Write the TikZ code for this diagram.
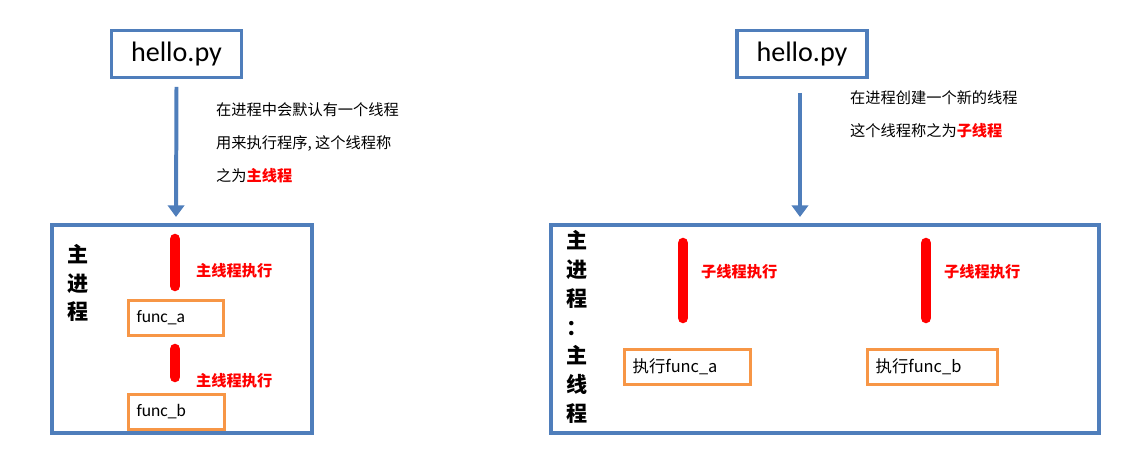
\documentclass[tikz,border=0pt]{standalone}
\usepackage{fontspec}
\setmainfont{Carlito}
\newfontfamily\cjk{Noto Sans CJK SC}
\usetikzlibrary{arrows.meta,positioning}
\definecolor{boxblue}{HTML}{4F7EBB}
\definecolor{boxorange}{HTML}{F79646}
\tikzset{
  filebox/.style={draw=boxblue,line width=2.6pt,minimum width=3.9cm,minimum height=1.4cm,font=\fontsize{24}{26}\selectfont},
  procbox/.style={draw=boxblue,line width=2.6pt},
  funcbox/.style={draw=boxorange,line width=2.4pt,anchor=west,minimum height=1.05cm,text width=2.35cm,inner xsep=7pt,font=\fontsize{15}{17}\selectfont},
  flow/.style={-{Triangle[length=10pt,width=14pt]},boxblue,line width=3.4pt},
  run/.style={red,line width=9pt,line cap=round},
  runlabel/.style={anchor=west,red,font=\cjk\bfseries\fontsize{13}{15}\selectfont},
  note/.style={anchor=north west,align=left,font=\cjk\fontsize{13}{28}\selectfont},
  vert/.style={font=\cjk\bfseries\fontsize{18}{24.5}\selectfont,align=center}
}
\begin{document}
\begin{tikzpicture}[x=0.03cm,y=-0.03cm]
\useasboundingbox (0,0) rectangle (1126,457);
% left side
\node[filebox] (helloA) at (176.5,54) {hello.py};
\draw[procbox] (52,225) rectangle (312,433);
\coordinate (topA) at (176,217);
\draw[flow] (helloA.south) ++(0,8) coordinate (startA) (startA) -- (topA);
\node[note] (noteA) at (212,99) {在进程中会默认有一个线程\\用来执行程序, 这个线程称\\之为{\color{red}\bfseries 主线程}};
\node[vert] (mainA) at (78,283) {主\\进\\程};
\node[funcbox] (funcA) at (127,318) {func\_a};
\node[funcbox,text width=2.4cm] (funcB) at (127,412) {func\_b};
\coordinate (runA1) at (175,239);
\coordinate (runA2) at (175,286);
\coordinate (runB1) at (175,349);
\coordinate (runB2) at (175,377);
\draw[run] (runA1) -- (runA2);
\draw[run] (runB1) -- (runB2);
\node[runlabel] (labA) at (192,271) {主线程执行};
\node[runlabel] (labB) at (192,381) {主线程执行};
% right side
\node[filebox] (helloB) at (802,54) {hello.py};
\draw[procbox] (551,225) rectangle (1099,433);
\coordinate (topB) at (800,217);
\draw[flow] (800,93) coordinate (startB) -- (topB);
\node[note] (noteB) at (846,87) {在进程创建一个新的线程\\这个线程称之为{\color{red}\bfseries 子线程}};
\node[vert] (mainB) at (577,327) {主\\进\\程\\：\\主\\线\\程};
\node[funcbox,text width=3.3cm,font=\cjk\fontsize{14}{16}\selectfont] (funcC) at (623,367) {执行func\_a};
\node[funcbox,text width=3.4cm,font=\cjk\fontsize{14}{16}\selectfont] (funcD) at (866,367) {执行func\_b};
\coordinate (runC1) at (683,243);
\coordinate (runC2) at (683,318);
\coordinate (runD1) at (926,243);
\coordinate (runD2) at (926,318);
\draw[run] (runC1) -- (runC2);
\draw[run] (runD1) -- (runD2);
\node[runlabel] (labC) at (697,272) {子线程执行};
\node[runlabel] (labD) at (940,272) {子线程执行};
\end{tikzpicture}
\end{document}
